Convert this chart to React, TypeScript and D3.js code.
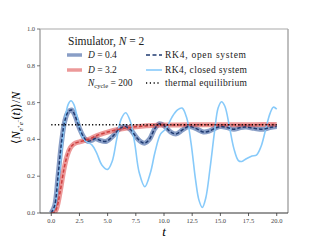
import * as d3 from "d3";

// closed system (RK4), one curve
const closedT = [0, 0.3, 0.6, 0.9, 1.2, 1.5, 1.75, 2.0, 2.3, 2.6, 2.9, 3.2, 3.6, 4.0, 4.5, 5.0, 5.4, 5.8, 6.2, 6.6, 7.0, 7.4, 7.8, 8.3, 8.8, 9.2, 9.7, 10.2, 10.7, 11.2, 11.6, 12.0, 12.4, 12.8, 13.1, 13.4, 13.7, 14.1, 14.5, 14.8, 15.1, 15.4, 15.8, 16.2, 16.6, 16.9, 17.3, 17.8, 18.2, 18.6, 19.0, 19.4, 19.7, 20.0];
const closedV = [0, 0.03, 0.15, 0.33, 0.5, 0.59, 0.61, 0.59, 0.52, 0.44, 0.4, 0.385, 0.37, 0.33, 0.26, 0.237, 0.28, 0.4, 0.51, 0.545, 0.5, 0.38, 0.22, 0.143, 0.22, 0.33, 0.43, 0.46, 0.52, 0.56, 0.57, 0.52, 0.38, 0.18, 0.07, 0.03, 0.08, 0.25, 0.45, 0.57, 0.605, 0.58, 0.47, 0.35, 0.285, 0.28, 0.295, 0.31, 0.315, 0.36, 0.45, 0.54, 0.575, 0.565];

// D = 0.4
const lowT = [0, 0.3, 0.6, 0.9, 1.2, 1.5, 1.8, 2.1, 2.5, 2.9, 3.2, 3.6, 3.9, 4.3, 4.9, 5.5, 6.0, 6.5, 7.0, 7.5, 8.0, 8.3, 8.7, 9.2, 9.6, 10.0, 10.6, 11.1, 11.6, 12.2, 12.8, 13.5, 14.0, 14.5, 15.0, 15.6, 16.2, 16.8, 17.3, 18.0, 18.8, 19.4, 20.0];
const lowV = [0, 0.04, 0.2, 0.38, 0.5, 0.55, 0.56, 0.53, 0.46, 0.41, 0.39, 0.395, 0.405, 0.395, 0.39, 0.42, 0.455, 0.47, 0.455, 0.415, 0.385, 0.38, 0.4, 0.46, 0.485, 0.475, 0.44, 0.43, 0.45, 0.47, 0.46, 0.44, 0.445, 0.46, 0.47, 0.465, 0.455, 0.465, 0.467, 0.46, 0.455, 0.465, 0.47];

// D = 3.2
const highT = [0, 0.3, 0.5, 0.8, 1.1, 1.4, 1.7, 2.0, 2.5, 3.0, 3.5, 4.0, 5.0, 6.0, 7.0, 8.0, 9.0, 10.0, 12.0, 14.0, 16.0, 18.0, 20.0];
const highV = [0, 0.005, 0.03, 0.12, 0.23, 0.31, 0.355, 0.375, 0.387, 0.395, 0.405, 0.42, 0.44, 0.455, 0.465, 0.472, 0.476, 0.478, 0.479, 0.48, 0.48, 0.48, 0.481];

const thermalT = [0, 20];
const thermalV = [0.48, 0.48];

const xTicks = [0, 2.5, 5, 7.5, 10, 12.5, 15, 17.5, 20];
const yTicks = [0, 0.2, 0.4, 0.6, 0.8, 1.0];

const W = 320;
const H = 240;
const L = 40, R = 288, T = 29, B = 213;
const SERIF = "Liberation Serif";

const x = d3.scaleLinear().domain([-1, 21]).range([L, R]);
const y = d3.scaleLinear().domain([0, 1]).range([B, T]);

const zip = (ts: number[], vs: number[]) => ts.map((t, i) => [t, vs[i]] as [number, number]);
const smooth = d3.line<[number, number]>().x((d) => x(d[0])).y((d) => y(d[1])).curve(d3.curveCatmullRom.alpha(0.5));
const straight = d3.line<[number, number]>().x((d) => x(d[0])).y((d) => y(d[1]));

export default function App() {
  const lowPath = smooth(zip(lowT, lowV)) ?? "";
  const highPath = smooth(zip(highT, highV)) ?? "";
  const closedPath = smooth(zip(closedT, closedV)) ?? "";
  const thermalPath = straight(zip(thermalT, thermalV)) ?? "";

  return (
    <svg width={W} height={H} style={{ position: "absolute", left: 0, top: 0, background: "#fff", fontFamily: SERIF }}>
      <defs>
        <clipPath id="plot">
          <rect x={L} y={T} width={R - L} height={B - T} />
        </clipPath>
      </defs>

      <g clipPath="url(#plot)" fill="none">
        <path d={lowPath} stroke="#3b5ea0" strokeOpacity={0.6} strokeWidth={5} />
        <path d={highPath} stroke="#e05555" strokeOpacity={0.6} strokeWidth={5} />
        <path d={closedPath} stroke="#87cafa" strokeWidth={1.6} />
        <path d={lowPath} stroke="#1f3a70" strokeWidth={1.5} strokeDasharray="3.5,2" />
        <path d={highPath} stroke="#cf3f3f" strokeWidth={1.5} strokeDasharray="3.5,2" />
        <path d={thermalPath} stroke="#000" strokeWidth={1.6} strokeDasharray="1.2,2.2" />
      </g>

      {/* spines */}
      <line x1={L} x2={R} y1={T} y2={T} stroke="#aaa" strokeWidth={1.2} />
      <line x1={L} x2={L} y1={T} y2={B} stroke="#aaa" strokeWidth={1.5} />
      <line x1={R} x2={R} y1={T} y2={B} stroke="#aaa" strokeWidth={1.5} />
      <line x1={L} x2={R} y1={B} y2={B} stroke="#333" strokeWidth={1} />

      {/* x ticks */}
      {xTicks.map((t) => (
        <g key={"x" + t}>
          <line x1={x(t)} x2={x(t)} y1={B} y2={B + 3} stroke="#333" strokeWidth={0.8} />
          <text x={x(t)} y={B + 10} fontSize={6.5} fill="#444" textAnchor="middle">{t.toFixed(1)}</text>
        </g>
      ))}
      {/* y ticks */}
      {yTicks.map((v) => (
        <g key={"y" + v}>
          <line x1={L - 3} x2={L} y1={y(v)} y2={y(v)} stroke="#555" strokeWidth={0.8} />
          <text x={L - 5} y={y(v) + 2} fontSize={6.5} fill="#444" textAnchor="end">{v.toFixed(1)}</text>
        </g>
      ))}

      {/* axis labels */}
      <text x={(L + R) / 2} y={236} fontSize={13} fontStyle="italic" textAnchor="middle">t</text>
      <text transform={`translate(20,${(T + B) / 2 - 3}) rotate(-90)`} fontSize={12} textAnchor="middle">
        ⟨<tspan fontStyle="italic">N</tspan>
        <tspan fontSize={7} fontStyle="italic" dy={3}>e</tspan>
        <tspan fontSize={5} dy={-3}>+</tspan>
        <tspan fontSize={7} fontStyle="italic" dy={3}>e</tspan>
        <tspan fontSize={5} dy={-3}>−</tspan>
        <tspan dy={0}>(</tspan>
        <tspan fontStyle="italic">t</tspan>)⟩/<tspan fontStyle="italic">N</tspan>
      </text>

      {/* legend */}
      <g fill="#222">
        <text x={68} y={45} fontSize={11.5}>
          Simulator, <tspan fontStyle="italic">N</tspan> = 2
        </text>
        <line x1={67} x2={82} y1={55} y2={55} stroke="#3b5ea0" strokeOpacity={0.6} strokeWidth={3.5} />
        <text x={88} y={58} fontSize={9.5}><tspan fontStyle="italic">D</tspan> = 0.4</text>
        <line x1={67} x2={82} y1={70} y2={70} stroke="#e05555" strokeOpacity={0.6} strokeWidth={3.5} />
        <text x={88} y={73} fontSize={9.5}><tspan fontStyle="italic">D</tspan> = 3.2</text>
        <text x={88} y={86} fontSize={9.5}>
          <tspan fontStyle="italic">N</tspan>
          <tspan fontSize={6.5} dy={1.5}>cycle</tspan>
          <tspan dy={-1.5}> = 200</tspan>
        </text>

        <line x1={146} x2={162} y1={55} y2={55} stroke="#1f3a70" strokeWidth={1.5} strokeDasharray="4,2.5" />
        <text x={165} y={58} fontSize={9.5} textLength={81} lengthAdjust="spacing">RK4, open system</text>
        <line x1={146} x2={162} y1={70} y2={70} stroke="#87cafa" strokeWidth={1.6} />
        <text x={165} y={73} fontSize={9.5} textLength={82} lengthAdjust="spacing">RK4, closed system</text>
        <line x1={146} x2={160} y1={83} y2={83} stroke="#000" strokeWidth={1.6} strokeDasharray="1.2,2.6" />
        <text x={165} y={86} fontSize={9.5} textLength={82} lengthAdjust="spacing">thermal equilibrium</text>
      </g>
    </svg>
  );
}
